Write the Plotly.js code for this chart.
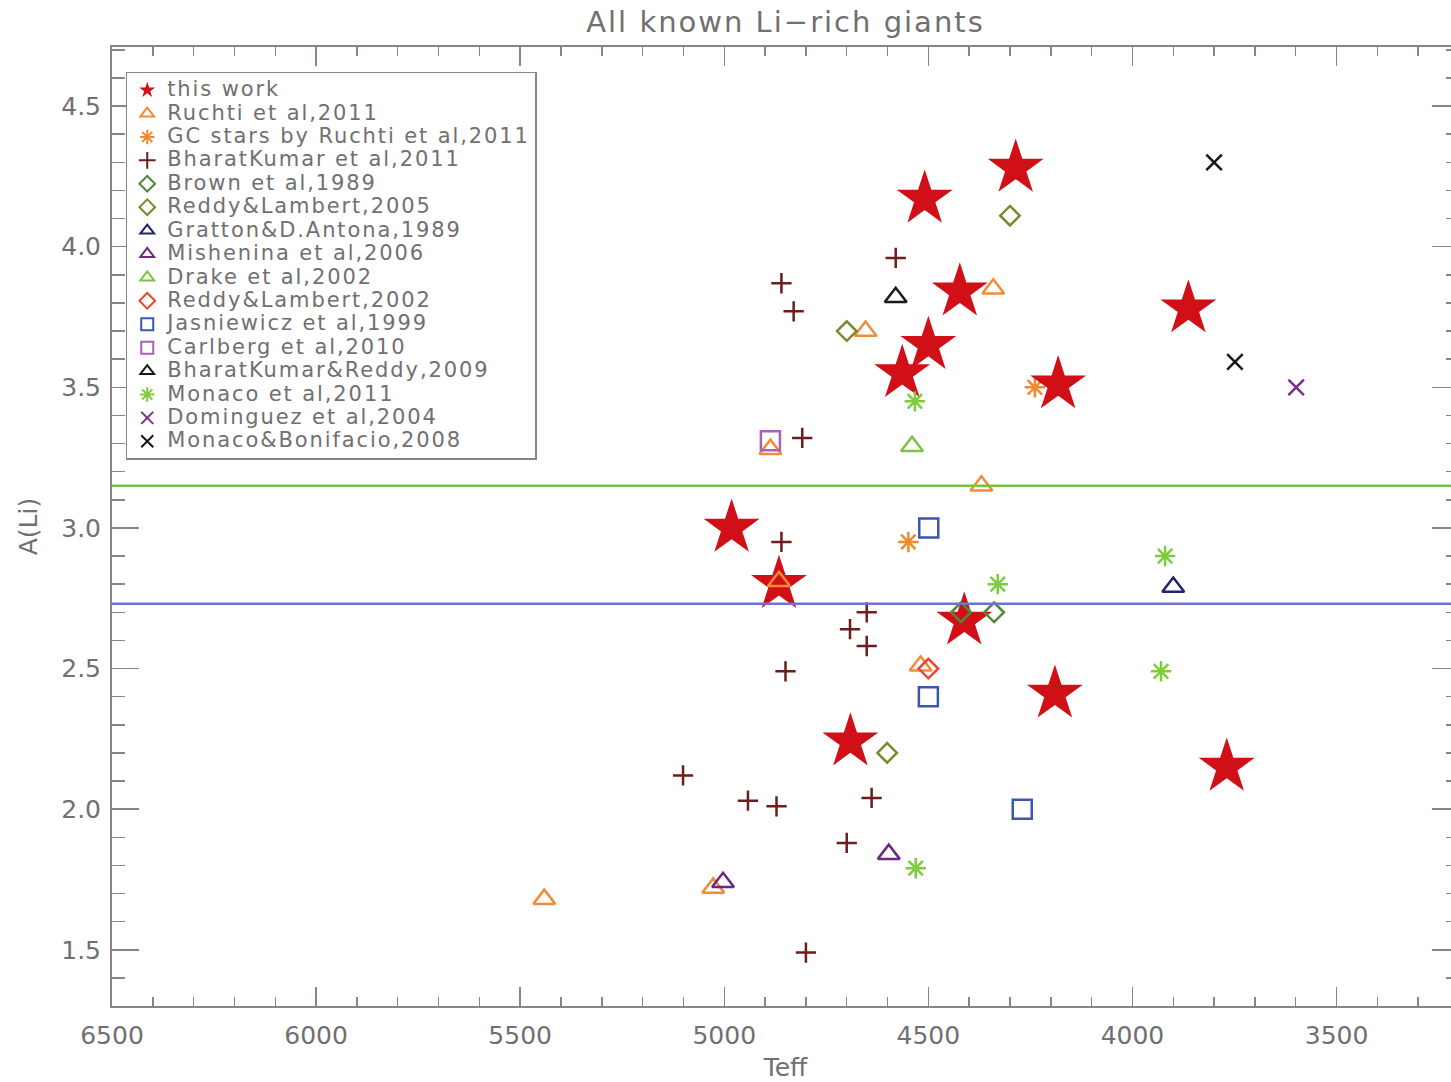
<!DOCTYPE html>
<html>
<head>
<meta charset="utf-8">
<script src="https://cdn.plot.ly/plotly-3.0.1.min.js"></script>
<style>
  html, body { margin: 0; padding: 0; overflow: hidden; background: #ffffff; }
  #chart { width: 1480px; height: 1082px; }
  .legendtext { font-size: 21px !important; letter-spacing: 1.9px; }
  .gtitle { letter-spacing: 2px; }
</style>
</head>
<body>
<div id="chart"></div>
<script>
// Effective temperature (K) and lithium abundance A(Li) for each sample
const thisWorkTeff = [4286, 4509, 4423, 3863, 4500, 4564, 4182, 4982, 4866, 4412, 4190, 4691, 3769];
const thisWorkALi  = [4.28, 4.17, 3.84, 3.78, 3.65, 3.55, 3.51, 3.00, 2.80, 2.67, 2.41, 2.24, 2.15];

const ruchtiTeff = [4341, 4654, 4887, 4370, 4866, 4519, 5027, 5441];
const ruchtiALi  = [3.85, 3.70, 3.28, 3.15, 2.81, 2.51, 1.72, 1.68];

const gcRuchtiTeff = [4239, 4549];
const gcRuchtiALi  = [3.50, 2.95];

const bharat2011Teff = [4580, 4860, 4830, 4809, 4860, 4651, 4692, 4651, 4850, 5101, 4942, 4872, 4639, 4700, 4800];
const bharat2011ALi  = [3.96, 3.87, 3.77, 3.32, 2.95, 2.70, 2.64, 2.58, 2.49, 2.12, 2.03, 2.01, 2.04, 1.88, 1.49];

const brownTeff = [4420, 4339];
const brownALi  = [2.70, 2.70];

const reddy2005Teff = [4300, 4700, 4601];
const reddy2005ALi  = [4.11, 3.70, 2.20];

const grattonTeff = [3900];
const grattonALi  = [2.79];

const misheninaTeff = [5003, 4597];
const misheninaALi  = [1.74, 1.84];

const drakeTeff = [4540];
const drakeALi  = [3.29];

const reddy2002Teff = [4500];
const reddy2002ALi  = [2.50];

const jasniewiczTeff = [4499, 4500, 4270];
const jasniewiczALi  = [3.00, 2.40, 2.00];

const carlbergTeff = [4887];
const carlbergALi  = [3.31];

const bharatReddyTeff = [4580];
const bharatReddyALi  = [3.82];

const monacoTeff = [4533, 3920, 4330, 3930, 4531];
const monacoALi  = [3.45, 2.90, 2.80, 2.49, 1.79];

const dominguezTeff = [3599];
const dominguezALi  = [3.50];

const monacoBonifacioTeff = [3800, 3749];
const monacoBonifacioALi  = [4.30, 3.59];

// Reference abundance levels drawn across the plot
const levelHigh = 3.15;
const levelLow  = 2.73;

const TEXT = '#707070';
const AXIS = '#8a8484';
const FONT = 'DejaVu Sans, sans-serif';

function series(name, xs, ys, symbol, color, size, rank, lw) {
  return {
    type: 'scatter', mode: 'markers', name: name, x: xs, y: ys,
    legendrank: rank,
    marker: { symbol: symbol, color: color, size: size,
              line: { color: color, width: lw === undefined ? 2.5 : lw } },
    hoverinfo: 'x+y+name'
  };
}

// drawing order: the cluster giants sit beneath the stars of this work
const traces = [
  series('GC stars by Ruchti et al,2011', gcRuchtiTeff, gcRuchtiALi, 'asterisk-open', '#f08a30', 17, 3),
  series('this work', thisWorkTeff, thisWorkALi, 'star', '#d00f16', 42, 1, 0),
  series('Ruchti et al,2011', ruchtiTeff, ruchtiALi, 'triangle-up-open', '#f28c38', 19, 2),
  series('BharatKumar et al,2011', bharat2011Teff, bharat2011ALi, 'cross-thin-open', '#6e1c1c', 14.5, 4),
  series('Brown et al,1989', brownTeff, brownALi, 'diamond-open', '#4e8a3a', 15, 5),
  series('Reddy&Lambert,2005', reddy2005Teff, reddy2005ALi, 'diamond-open', '#7a8a2c', 15, 6),
  series('Gratton&D.Antona,1989', grattonTeff, grattonALi, 'triangle-up-open', '#23236e', 19, 7),
  series('Mishenina et al,2006', misheninaTeff, misheninaALi, 'triangle-up-open', '#6c2a86', 19, 8),
  series('Drake et al,2002', drakeTeff, drakeALi, 'triangle-up-open', '#7cc242', 19, 9),
  series('Reddy&Lambert,2002', reddy2002Teff, reddy2002ALi, 'diamond-open', '#e8472e', 15, 10),
  series('Jasniewicz et al,1999', jasniewiczTeff, jasniewiczALi, 'square-open', '#3b55b4', 19, 11),
  series('Carlberg et al,2010', carlbergTeff, carlbergALi, 'square-open', '#a860b8', 19, 12),
  series('BharatKumar&Reddy,2009', bharatReddyTeff, bharatReddyALi, 'triangle-up-open', '#1a1a1a', 19, 13),
  series('Monaco et al,2011', monacoTeff, monacoALi, 'asterisk-open', '#7ccc3c', 17, 14),
  series('Dominguez et al,2004', dominguezTeff, dominguezALi, 'x-thin-open', '#7a2d8e', 15.5, 15),
  series('Monaco&Bonifacio,2008', monacoBonifacioTeff, monacoBonifacioALi, 'x-thin-open', '#151515', 15.5, 16)
];

const layout = {
  width: 1480,
  height: 1082,
  margin: { l: 112, r: 21, t: 47, b: 76 },
  paper_bgcolor: '#ffffff',
  plot_bgcolor: '#ffffff',
  font: { family: FONT, color: TEXT },
  title: {
    text: 'All known Li\u2212rich giants',
    font: { family: FONT, size: 29, color: TEXT },
    x: 0.5, xref: 'paper', xanchor: 'center',
    y: 0.98, yref: 'container', yanchor: 'middle'
  },
  xaxis: {
    range: [6500, 3200],
    dtick: 500, tickformat: 'd',
    ticks: 'inside', ticklen: 19, tickwidth: 1.5, tickcolor: AXIS,
    minor: { dtick: 100, ticks: 'inside', ticklen: 9, tickwidth: 1.5, tickcolor: AXIS },
    showline: true, linecolor: AXIS, linewidth: 2, mirror: 'ticks',
    showgrid: false, zeroline: false,
    tickfont: { family: FONT, size: 25, color: TEXT },
    ticklabelstandoff: 6,
    title: { text: 'Teff', font: { family: FONT, size: 25, color: TEXT }, standoff: 10 }
  },
  yaxis: {
    range: [1.3, 4.71],
    dtick: 0.5, tickformat: '.1f',
    ticks: 'inside', ticklen: 27, tickwidth: 1.5, tickcolor: AXIS,
    minor: { dtick: 0.1, ticks: 'inside', ticklen: 13, tickwidth: 1.5, tickcolor: AXIS },
    showline: true, linecolor: AXIS, linewidth: 2, mirror: 'ticks',
    showgrid: false, zeroline: false,
    tickfont: { family: FONT, size: 25, color: TEXT },
    ticklabelstandoff: 4,
    title: { text: 'A(Li)', font: { family: FONT, size: 25, color: TEXT }, standoff: 16 }
  },
  legend: {
    x: 0.0102, y: 0.974, xanchor: 'left', yanchor: 'top',
    bgcolor: '#ffffff', bordercolor: '#8a8484', borderwidth: 1.5,
    font: { family: FONT, size: 15.7, color: TEXT },
    itemsizing: 'constant',
    tracegroupgap: 0,
    traceorder: 'normal'
  },
  shapes: [
    { type: 'line', xref: 'paper', x0: 0, x1: 1, yref: 'y', y0: levelHigh, y1: levelHigh,
      line: { color: '#76c63a', width: 2.5 }, layer: 'above' },
    { type: 'line', xref: 'paper', x0: 0, x1: 1, yref: 'y', y0: levelLow, y1: levelLow,
      line: { color: '#6f74c8', width: 2.5 }, layer: 'above' }
  ],
  showlegend: true
};

Plotly.newPlot('chart', traces, layout, { displayModeBar: false, staticPlot: true });
</script>
</body>
</html>
